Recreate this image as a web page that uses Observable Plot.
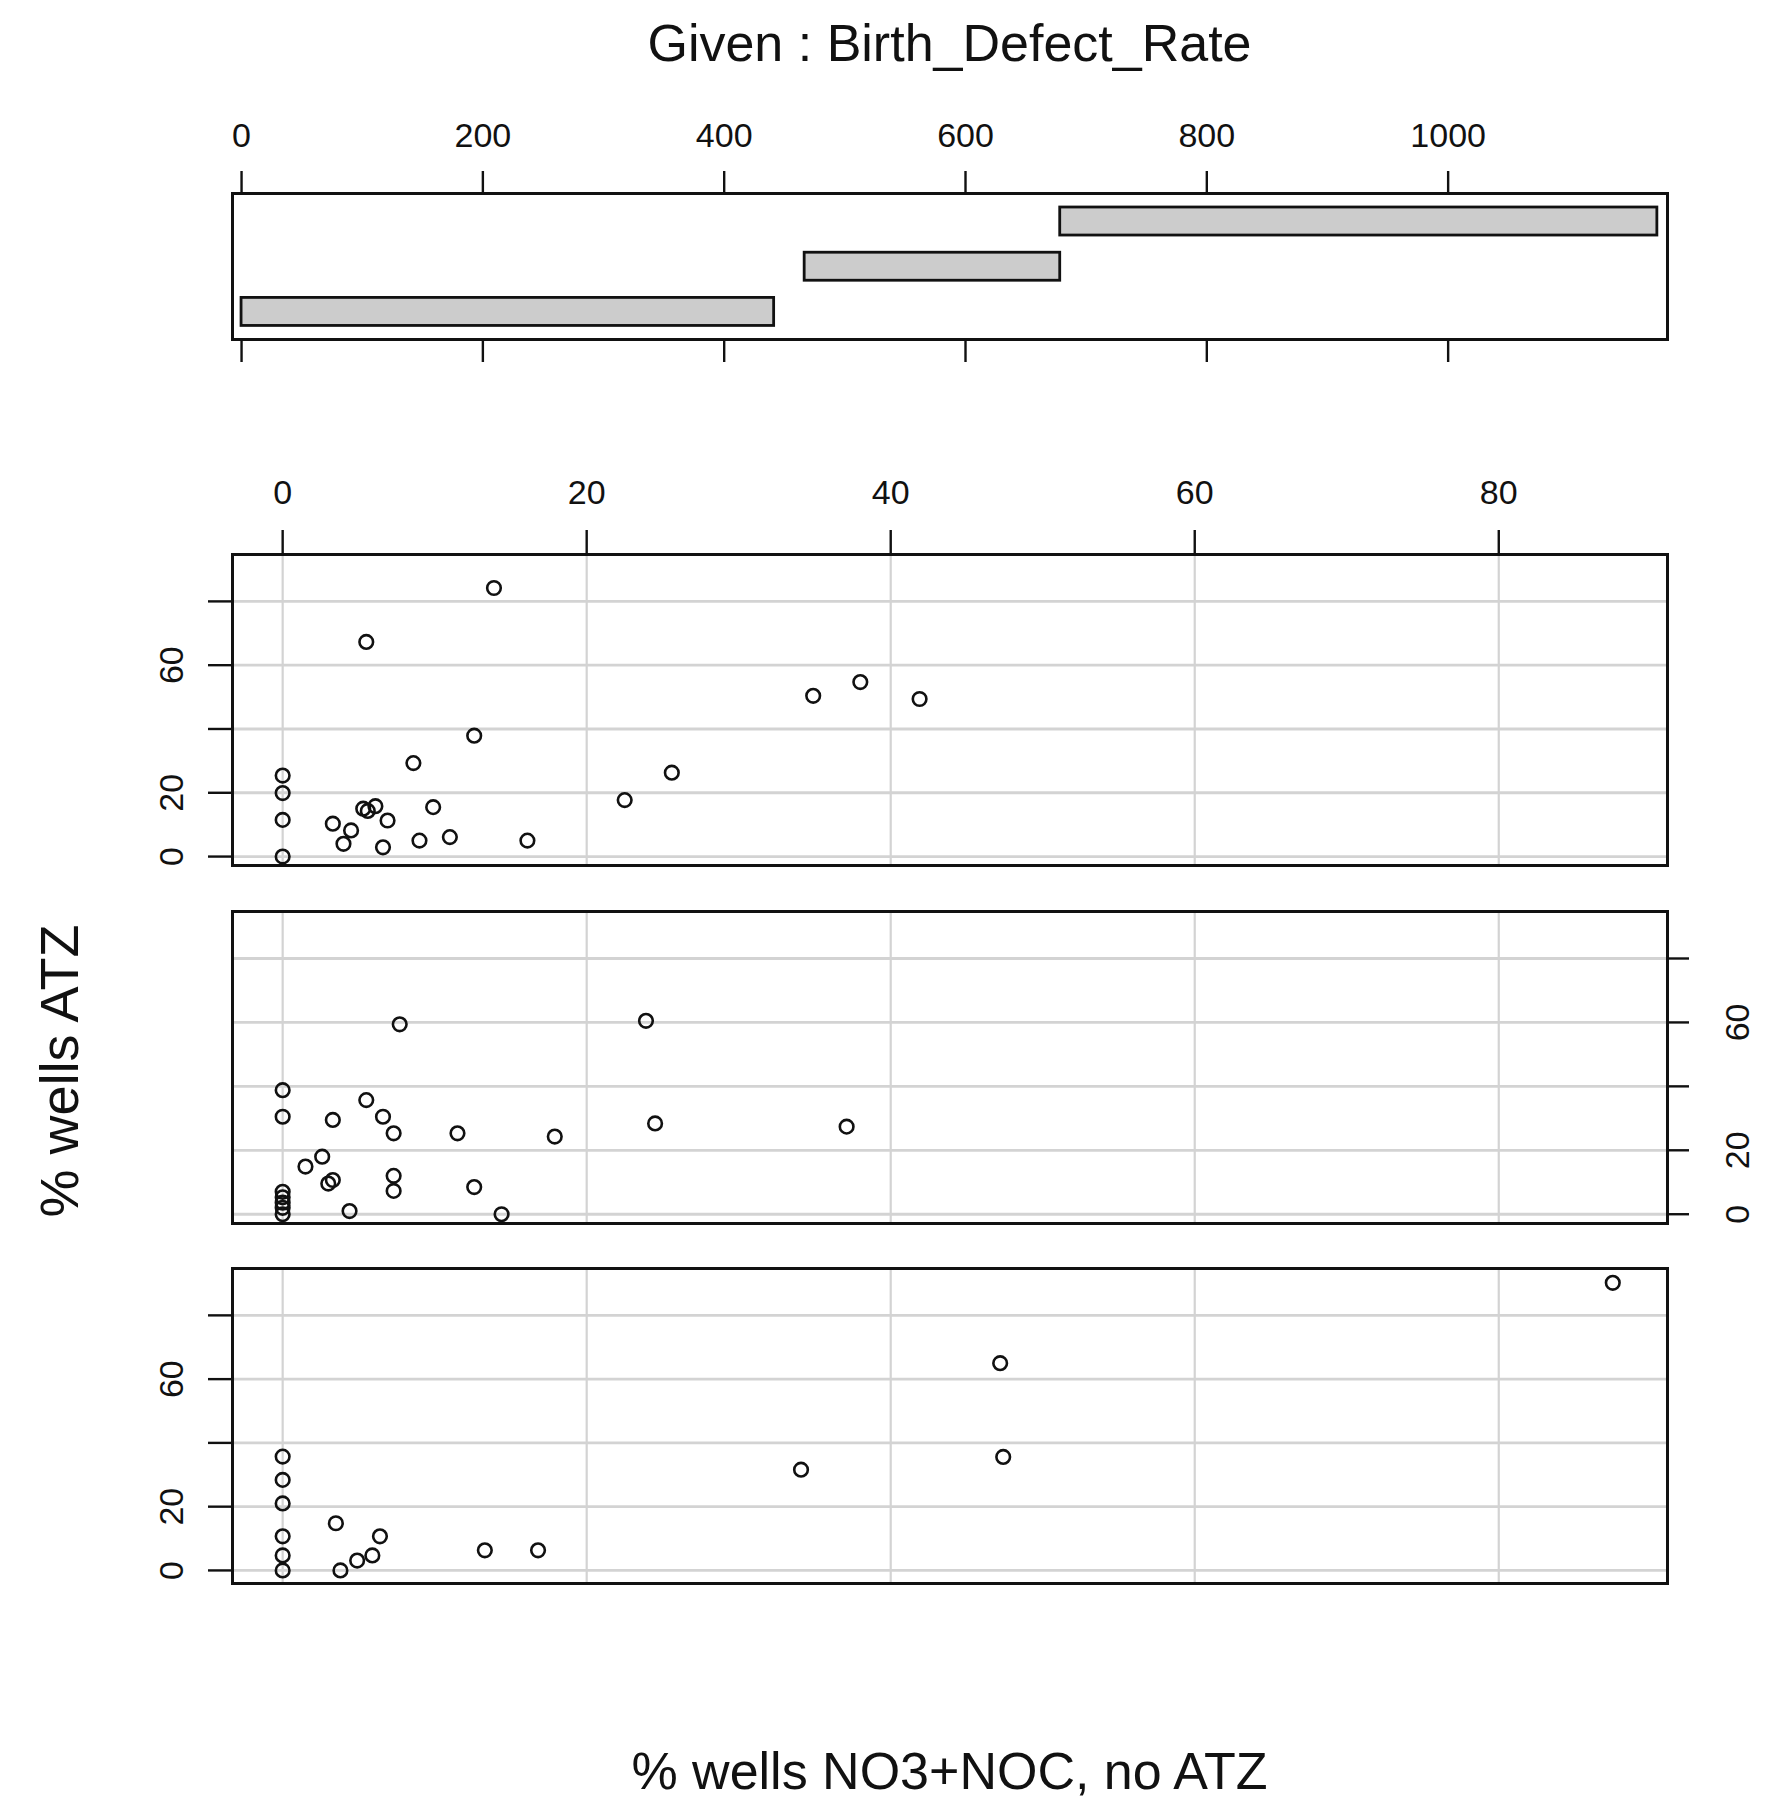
<!DOCTYPE html>
<html><head><meta charset="utf-8">
<script src="https://cdn.jsdelivr.net/npm/d3@7"></script>
<script src="https://cdn.jsdelivr.net/npm/@observablehq/plot@0.6"></script>
<style>
html,body{margin:0;padding:0;background:#fff;}
#root{position:relative;width:1770px;height:1802px;overflow:hidden;font-family:"Liberation Sans",Arial,sans-serif;color:#111;}
.t{position:absolute;white-space:nowrap;line-height:1em;}
</style></head>
<body><div id="root"></div>
<script>
// ---------- data ----------
const titleText = "Given : Birth_Defect_Rate";
const xTitle = "% wells NO3+NOC, no ATZ";
const yTitle = "% wells ATZ";

const givenLevels = [1, 2, 3];
const givenLow  = [0, 466.7, 678.5];
const givenHigh = [441.4, 678.5, 1173.4];
const givenTicks = [0, 200, 400, 600, 800, 1000];

const xTicks = [0, 20, 40, 60, 80];
const yTicks = [0, 20, 40, 60, 80];
const yTickLabels = [0, 20, 60];

// panel 1 (lowest Birth_Defect_Rate interval), top panel
const p1x = [13.9, 5.5, 34.9, 38.0, 41.9, 12.6, 8.6, 25.6, 0, 0, 22.5, 0, 0, 5.3, 5.6, 6.1, 6.9, 9.9, 3.3, 4.5, 4.0, 6.6, 9.0, 11.0, 16.1];
const p1y = [84.2, 67.3, 50.4, 54.7, 49.4, 37.9, 29.3, 26.3, 25.4, 19.9, 17.7, 11.5, 0, 15.0, 14.3, 15.8, 11.3, 15.5, 10.3, 8.2, 4.0, 2.9, 5.0, 6.1, 5.0];
// panel 2, middle
const p2x = [7.7, 23.9, 0, 0, 3.3, 5.5, 6.6, 7.3, 11.5, 17.9, 24.5, 37.1, 2.6, 1.5, 3.3, 3.0, 7.3, 7.3, 12.6, 4.4, 14.4, 0, 0, 0, 0, 0];
const p2y = [59.4, 60.5, 38.8, 30.5, 29.5, 35.7, 30.5, 25.3, 25.3, 24.3, 28.4, 27.4, 18.0, 14.9, 10.7, 9.6, 12.0, 7.3, 8.5, 1.0, 0, 7.0, 5.3, 3.6, 2.0, 0];
// panel 3, bottom
const p3x = [87.5, 47.2, 47.4, 34.1, 0, 0, 0, 0, 0, 0, 3.5, 6.4, 5.9, 4.9, 3.8, 13.3, 16.8];
const p3y = [90.2, 65.0, 35.6, 31.6, 35.7, 28.4, 21.0, 10.7, 4.7, 0, 14.8, 10.7, 4.7, 3.1, 0, 6.3, 6.3];

// ---------- layout ----------
const FONT = "Liberation Sans, Arial, Helvetica, sans-serif";
const root = document.getElementById("root");
function place(el, top) {
  el.style.position = "absolute"; el.style.left = "0px"; el.style.top = top + "px";
  root.appendChild(el);
}
function textDiv(txt, css) {
  const d = document.createElement("div");
  d.className = "t"; d.textContent = txt;
  Object.assign(d.style, css);
  root.appendChild(d);
  return d;
}
const base = {
  width: 1770, marginLeft: 232, marginRight: 103,
  style: {fontFamily: FONT, fontSize: "34px", color: "#111", background: "transparent", overflow: "visible"}
};

// ---------- given (conditioning) panel ----------
const givenTable = givenLevels.map((l, i) => ({level: l, lo: givenLow[i], hi: givenHigh[i]}));
const given = Plot.plot({
  ...base, height: 300, marginTop: 113, marginBottom: 41,
  x: {domain: [-7.5, 1181.8]},
  y: {domain: [0.39, 3.62], axis: null},
  marks: [
    Plot.rect(givenTable, {x1: "lo", x2: "hi", y1: d => d.level - 0.31, y2: d => d.level + 0.31,
      fill: "#cccccc", stroke: "#111", strokeWidth: 2.8}),
    Plot.frame({stroke: "#111", strokeWidth: 3}),
    Plot.axisX(givenTicks, {anchor: "top", tickSize: 23, tickPadding: 24, fontSize: 34, label: null, strokeWidth: 2.4,
      tickFormat: d => String(d)}),
    Plot.axisX(givenTicks, {anchor: "bottom", tickSize: 23, tickFormat: () => "", label: null, strokeWidth: 2.4})
  ]
});
place(given, 80);

// ---------- scatter panels ----------
function panel(xs, ys, opts) {
  const data = xs.map((x, i) => ({x, y: ys[i]}));
  const marks = [
    Plot.gridX(xTicks, {stroke: "#d3d3d3", strokeOpacity: 1, strokeWidth: 2.2}),
    Plot.gridY(yTicks, {stroke: "#d3d3d3", strokeOpacity: 1, strokeWidth: 2.8}),
    Plot.frame({stroke: "#111", strokeWidth: 3}),
    Plot.dot(data, {x: "x", y: "y", r: 6.8, stroke: "#111", strokeWidth: 2.6, fill: "none"})
  ];
  const fmt = d => yTickLabels.includes(d) ? String(d) : "";
  if (opts.topAxis) {
    marks.push(Plot.axisX(xTicks, {anchor: "top", tickSize: 25, tickPadding: 26, fontSize: 34, label: null, strokeWidth: 2.4,
      tickFormat: d => String(d)}));
  }
  if (opts.yAnchor === "left") {
    marks.push(Plot.axisY(yTicks, {anchor: "left", tickSize: 24, tickPadding: 26, tickRotate: -90, fontSize: 34,
      label: null, strokeWidth: 2.4, tickFormat: fmt}));
  } else {
    marks.push(Plot.axisY(yTicks, {anchor: "right", tickSize: 21, tickPadding: 60, tickRotate: -90, fontSize: 34,
      label: null, strokeWidth: 2.4, tickFormat: fmt}));
  }
  const p = Plot.plot({
    ...base, height: opts.mt + opts.h + opts.mb, marginTop: opts.mt, marginBottom: opts.mb,
    x: {domain: [-3.3, 91.1], axis: opts.topAxis ? undefined : null},
    y: {domain: opts.yDomain},
    marks
  });
  place(p, opts.frameTop - opts.mt);
}

panel(p1x, p1y, {topAxis: true, yAnchor: "left", frameTop: 554, h: 311, mt: 100, mb: 20, yDomain: [-2.8, 94.7]});
panel(p2x, p2y, {topAxis: false, yAnchor: "right", frameTop: 911, h: 312, mt: 20, mb: 20, yDomain: [-2.9, 94.7]});
panel(p3x, p3y, {topAxis: false, yAnchor: "left", frameTop: 1268, h: 315, mt: 20, mb: 20, yDomain: [-4.1, 94.7]});

// ---------- titles ----------
textDiv(titleText, {left: "232px", width: "1435px", textAlign: "center", top: "17px", fontSize: "52px"});
textDiv(xTitle, {left: "232px", width: "1435px", textAlign: "center", top: "1745px", fontSize: "52px"});
textDiv(yTitle, {left: "59px", top: "1071px", fontSize: "54px", transform: "translate(-50%,-50%) rotate(-90deg)"});
</script>
</body></html>
